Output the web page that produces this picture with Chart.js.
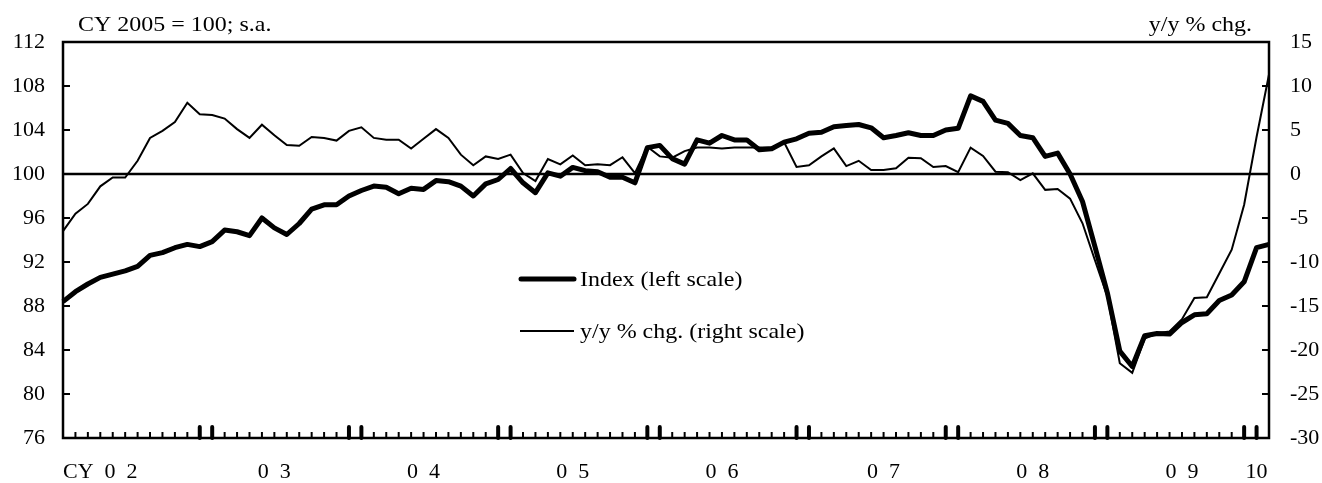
<!DOCTYPE html>
<html>
<head>
<meta charset="utf-8">
<script src="https://cdn.jsdelivr.net/npm/chart.js@4/dist/chart.umd.min.js"></script>
<style>
  html, body { margin: 0; padding: 0; background: #fff; }
  #wrap { width: 1322px; height: 483px; }
</style>
</head>
<body>
<div id="wrap"><canvas id="chart" width="1322" height="483"></canvas></div>
<script>
// months Jan 2002 .. Feb 2010
const months = [];
for (let y = 2002; y <= 2010; y++) {
  for (let m = 1; m <= 12; m++) {
    if (y === 2010 && m > 2) break;
    months.push(y + "-" + String(m).padStart(2, "0"));
  }
}

// year labels on the x axis
const yearTicks = {
  "2002-04": "CY  0  2",
  "2003-06": "0  3",
  "2004-06": "0  4",
  "2005-06": "0  5",
  "2006-06": "0  6",
  "2007-07": "0  7",
  "2008-07": "0  8",
  "2009-07": "0  9",
  "2010-01": "10",
};

// index, CY 2005 = 100 (left scale)
const indexVals = [
  88.4, 89.3, 90.0, 90.6, 90.9, 91.2, 91.6, 92.6, 92.85, 93.3, 93.6, 93.4,
  93.85, 94.9, 94.75, 94.4, 96.0, 95.1, 94.5, 95.5, 96.8, 97.2, 97.2, 98.0,
  98.5, 98.9, 98.8, 98.2, 98.7, 98.6, 99.4, 99.3, 98.9, 98.0, 99.1, 99.5,
  100.5, 99.2, 98.3, 100.1, 99.8, 100.6, 100.3, 100.2, 99.7, 99.7, 99.2, 102.4,
  102.6, 101.4, 100.9, 103.1, 102.8, 103.5, 103.1, 103.1, 102.2, 102.3, 102.9, 103.2,
  103.7, 103.8, 104.3, 104.4, 104.5, 104.2, 103.3, 103.5, 103.75, 103.5, 103.5, 104.0,
  104.15, 107.1, 106.6, 104.9, 104.6, 103.5, 103.3, 101.6, 101.9, 100.0, 97.5, 93.4,
  89.2, 83.9, 82.5, 85.3, 85.5, 85.45, 86.5, 87.2, 87.3, 88.5, 89.0, 90.2,
  93.3, 93.6
];

// y/y % chg. (right scale)
const yoyVals = [
  -6.5, -4.5, -3.4, -1.4, -0.4, -0.4, 1.5, 4.1, 4.9, 5.9, 8.1, 6.8,
  6.7, 6.3, 5.1, 4.1, 5.6, 4.4, 3.3, 3.2, 4.2, 4.1, 3.8, 4.9,
  5.3, 4.1, 3.9, 3.9, 2.9, 4.0, 5.1, 4.1, 2.2, 1.0, 2.0, 1.7,
  2.2, 0.1, -0.8, 1.7, 1.1, 2.1, 1.0, 1.1, 1.0, 1.9, 0.1, 3.1,
  2.0, 1.85, 2.6, 3.0, 3.0, 2.9, 3.0, 3.0, 3.0, 3.0, 3.6, 0.8,
  1.0, 2.0, 2.9, 0.9, 1.5, 0.45, 0.45, 0.65, 1.85, 1.8, 0.8, 0.9,
  0.2, 3.0, 2.05, 0.26, 0.2, -0.7, 0.08, -1.8, -1.7, -2.8, -5.6, -9.8,
  -13.9, -21.5, -22.6, -18.7, -18.1, -17.9, -16.5, -14.1, -14.0, -11.3, -8.6, -3.5,
  4.2, 11.3
];

const FONT = '"Liberation Serif", "Times New Roman", serif';

// text a little wider than the font, like the original export
function wideText(ctx, txt, x, y, align) {
  const sx = 1.09;
  const w = ctx.measureText(txt).width * sx;
  const left = align === "right" ? x - w : x;
  ctx.save();
  ctx.textAlign = "left";
  ctx.translate(left, y);
  ctx.scale(sx, 1);
  ctx.fillText(txt, 0, 0);
  ctx.restore();
}

const decor = {
  id: "decor",
  beforeDatasetsDraw(chart) {
    const { ctx, chartArea: a, scales } = chart;
    const y0 = scales.yL.getPixelForValue(100);
    ctx.save();
    ctx.strokeStyle = "#000";
    ctx.lineWidth = 2.5;
    ctx.beginPath();
    ctx.moveTo(a.left, y0);
    ctx.lineTo(a.right, y0);
    ctx.stroke();
    ctx.restore();
  },
  afterDraw(chart) {
    const { ctx, chartArea: a, scales } = chart;
    ctx.save();
    ctx.strokeStyle = "#000";
    ctx.fillStyle = "#000";

    // frame
    ctx.lineWidth = 2.5;
    ctx.strokeRect(a.left, a.top, a.right - a.left, a.bottom - a.top);

    // inner ticks on the value axes
    ctx.lineWidth = 2;
    scales.yL.ticks.forEach(t => {
      const y = scales.yL.getPixelForValue(t.value);
      ctx.beginPath(); ctx.moveTo(a.left, y); ctx.lineTo(a.left + 7, y); ctx.stroke();
    });
    scales.yR.ticks.forEach(t => {
      const y = scales.yR.getPixelForValue(t.value);
      ctx.beginPath(); ctx.moveTo(a.right, y); ctx.lineTo(a.right - 7, y); ctx.stroke();
    });

    // month ticks, heavier at Dec / Jan
    months.forEach((m, i) => {
      const x = scales.x.getPixelForValue(i);
      const mm = m.slice(5);
      const bold = i > 0 && (mm === "12" || mm === "01");
      ctx.lineWidth = bold ? 4 : 2;
      ctx.lineCap = bold ? "round" : "butt";
      ctx.beginPath();
      ctx.moveTo(x, a.bottom);
      ctx.lineTo(x, a.bottom - (bold ? 11 : 6));
      ctx.stroke();
    });
    ctx.lineCap = "butt";

    // unit captions
    ctx.font = "22px " + FONT;
    ctx.textBaseline = "middle";
    wideText(ctx, "CY 2005 = 100; s.a.", 78, 25, "left");
    wideText(ctx, "y/y % chg.", 1252, 25, "right");

    // legend
    ctx.lineCap = "round";
    ctx.lineWidth = 5;
    ctx.beginPath(); ctx.moveTo(521, 279); ctx.lineTo(574, 279); ctx.stroke();
    wideText(ctx, "Index (left scale)", 580, 280, "left");
    ctx.lineWidth = 2;
    ctx.lineCap = "butt";
    ctx.beginPath(); ctx.moveTo(520, 331); ctx.lineTo(574, 331); ctx.stroke();
    wideText(ctx, "y/y % chg. (right scale)", 580, 332, "left");
    ctx.restore();
  }
};

const tickFont = { family: FONT, size: 22 };

new Chart(document.getElementById("chart").getContext("2d"), {
  type: "line",
  data: {
    labels: months,
    datasets: [
      {
        label: "Index (left scale)",
        data: indexVals,
        yAxisID: "yL",
        borderColor: "#000",
        borderWidth: 5,
        borderJoinStyle: "round",
        pointRadius: 0,
        tension: 0,
        fill: false,
      },
      {
        label: "y/y % chg. (right scale)",
        data: yoyVals,
        yAxisID: "yR",
        borderColor: "#000",
        borderWidth: 2,
        pointRadius: 0,
        tension: 0,
        fill: false,
      },
    ],
  },
  options: {
    responsive: false,
    animation: false,
    devicePixelRatio: 1,
    layout: { padding: { top: 42, left: 0, right: 0, bottom: 0 } },
    plugins: { legend: { display: false }, tooltip: { enabled: false } },
    scales: {
      x: {
        type: "category",
        offset: false,
        grid: { display: false, drawTicks: false },
        border: { display: false },
        ticks: {
          autoSkip: false,
          maxRotation: 0,
          minRotation: 0,
          padding: 21,
          color: "#000",
          font: tickFont,
          callback: (v, i) => yearTicks[months[i]] || "",
        },
        afterFit(s) { s.height = 45; },
      },
      yL: {
        position: "left",
        min: 76,
        max: 112,
        grid: { display: false, drawTicks: false },
        border: { display: false },
        ticks: { stepSize: 4, padding: 18, color: "#000", font: tickFont },
        afterFit(s) { s.width = 63; },
      },
      yR: {
        position: "right",
        min: -30,
        max: 15,
        grid: { display: false, drawTicks: false },
        border: { display: false },
        ticks: { stepSize: 5, padding: 21, color: "#000", font: tickFont },
        afterFit(s) { s.width = 53; },
      },
    },
  },
  plugins: [decor],
});
</script>
</body>
</html>
